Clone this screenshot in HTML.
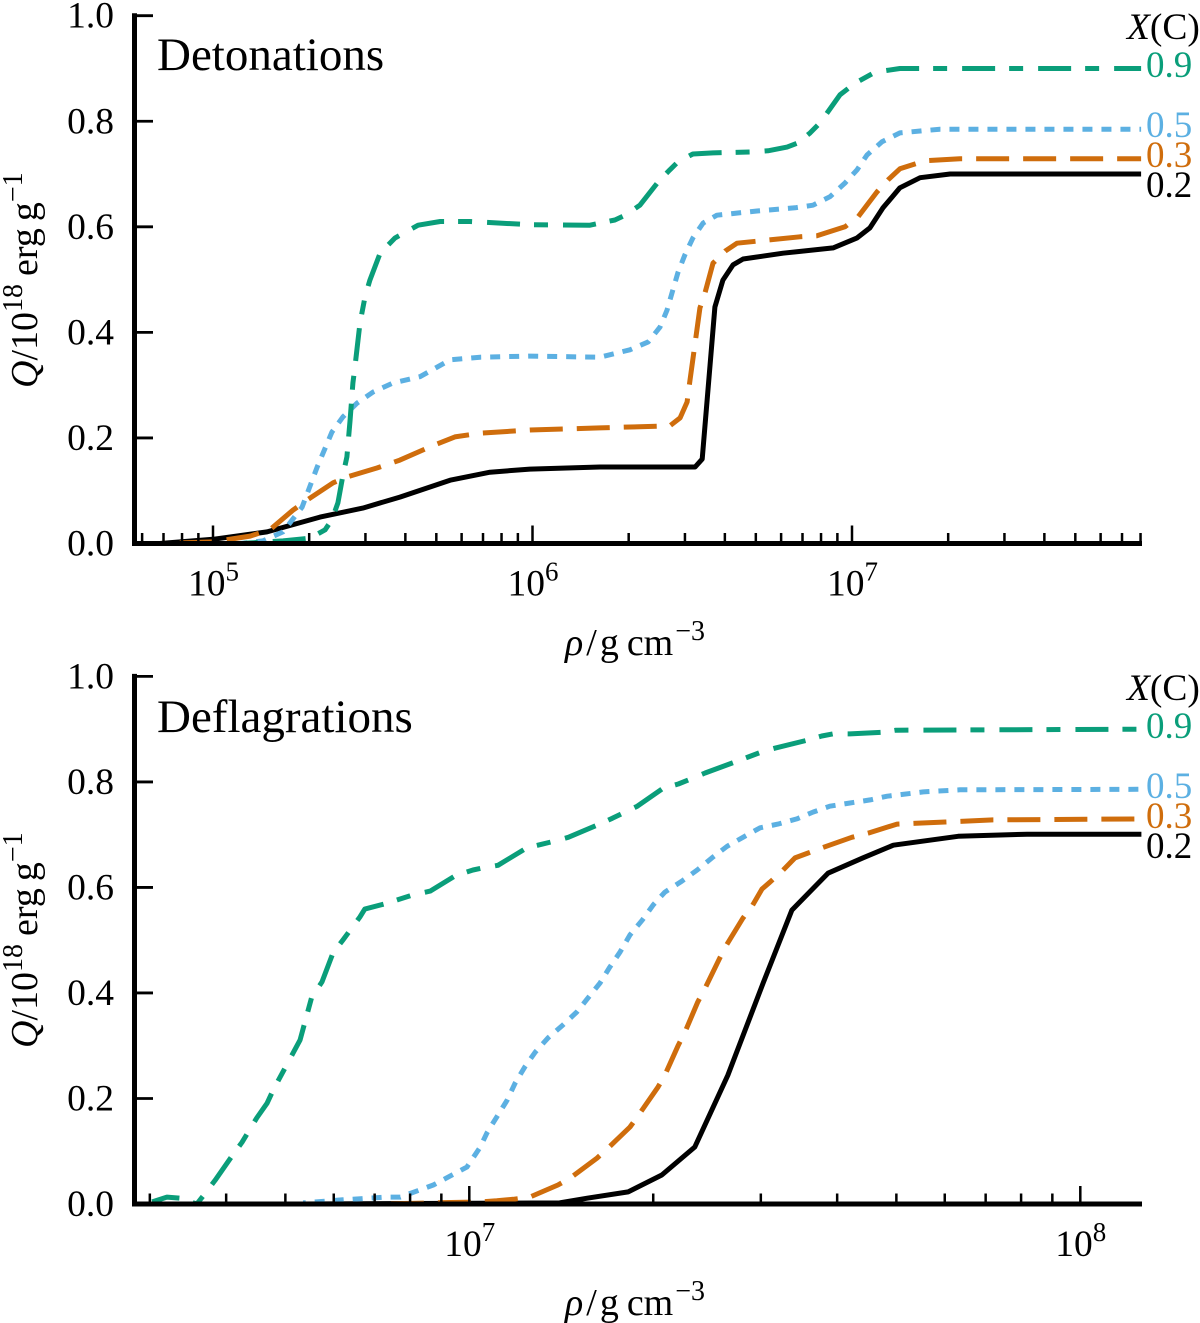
<!DOCTYPE html>
<html lang="en">
<head>
<meta charset="utf-8">
<title>Q vs density: detonations and deflagrations</title>
<style>
html,body{margin:0;padding:0;background:#fff;}
svg{display:block;}
text{font-family:"Liberation Serif",serif;fill:#000;}
.it{font-style:italic;}
</style>
</head>
<body>
<svg id="fig" xmlns="http://www.w3.org/2000/svg" width="1200" height="1323" viewBox="0 0 1200 1323">
  <g id="panel-top">
    <g id="top-series"></g>
    <g id="top-axes"></g>
    <text x="157" y="70" font-size="47">Detonations</text>
    <text x="1127" y="39" font-size="37.5"><tspan class="it">X</tspan>(C)</text>
    <text x="1146" y="77" font-size="37" style="fill:#0a9e7a">0.9</text>
    <text x="1146" y="137" font-size="37" style="fill:#5cb0e2">0.5</text>
    <text x="1146" y="167" font-size="37" style="fill:#cf6d0c">0.3</text>
    <text x="1146" y="197" font-size="37">0.2</text>
    <text x="565" y="655" font-size="38"><tspan class="it">ρ</tspan><tspan dx="3">/</tspan><tspan dx="3">g</tspan><tspan dx="8">cm</tspan><tspan font-size="28" dy="-15" dx="2">−3</tspan></text>
    <text transform="translate(37,388) rotate(-90)" font-size="38"><tspan class="it">Q</tspan>/10<tspan font-size="28" dy="-15">18</tspan><tspan dy="15" dx="8">erg</tspan><tspan dx="7">g</tspan><tspan font-size="28" dy="-15">−1</tspan></text>
  </g>
  <g id="panel-bottom">
    <g id="bot-series"></g>
    <g id="bot-axes"></g>
    <text x="157" y="732" font-size="47">Deflagrations</text>
    <text x="1127" y="700" font-size="37.5"><tspan class="it">X</tspan>(C)</text>
    <text x="1146" y="738" font-size="37" style="fill:#0a9e7a">0.9</text>
    <text x="1146" y="798" font-size="37" style="fill:#5cb0e2">0.5</text>
    <text x="1146" y="828" font-size="37" style="fill:#cf6d0c">0.3</text>
    <text x="1146" y="858" font-size="37">0.2</text>
    <text x="565" y="1315" font-size="38"><tspan class="it">ρ</tspan><tspan dx="3">/</tspan><tspan dx="3">g</tspan><tspan dx="8">cm</tspan><tspan font-size="28" dy="-15" dx="2">−3</tspan></text>
    <text transform="translate(37,1048) rotate(-90)" font-size="38"><tspan class="it">Q</tspan>/10<tspan font-size="28" dy="-15">18</tspan><tspan dy="15" dx="8">erg</tspan><tspan dx="7">g</tspan><tspan font-size="28" dy="-15">−1</tspan></text>
  </g>
</svg>
<script>
// Shared tick values
const yTicks = [0, 0.2, 0.4, 0.6, 0.8, 1.0];
const yTickLabels = ['0.0', '0.2', '0.4', '0.6', '0.8', '1.0'];
const topDecades = [5, 6, 7];
const botDecades = [7, 8];

// Detonations: log10(rho) and Q per carbon fraction
const detLog02 = [4.834,5.000,5.169,5.335,5.469,5.585,5.742,5.867,5.992,6.211,6.509,6.531,6.571,6.596,6.628,6.659,6.784,6.941,7.016,7.056,7.097,7.150,7.213,7.307,7.905];
const detQ02 = [0,.008,.022,.050,.067,.088,.120,.135,.141,.145,.145,.160,.448,.499,.528,.539,.550,.560,.579,.598,.636,.674,.693,.700,.700];
const detLog03 = [4.834,5.000,5.116,5.178,5.250,5.294,5.376,5.419,5.513,5.585,5.679,5.757,5.836,5.992,6.211,6.430,6.462,6.484,6.490,6.524,6.540,6.565,6.603,6.640,6.837,6.890,6.978,7.019,7.078,7.113,7.150,7.228,7.338,7.905];
const detQ03 = [0,.003,.014,.026,.063,.082,.115,.126,.143,.158,.183,.202,.209,.215,.219,.223,.238,.268,.297,.446,.475,.531,.554,.569,.581,.583,.600,.619,.666,.689,.710,.725,.729,.729];
const detLog05 = [5.085,5.156,5.219,5.279,5.326,5.372,5.407,5.451,5.501,5.563,5.648,5.742,5.836,5.992,6.211,6.305,6.362,6.399,6.421,6.455,6.477,6.502,6.534,6.577,6.703,6.822,6.878,6.931,6.978,7.016,7.047,7.094,7.150,7.275,7.905];
const detQ05 = [0,.005,.022,.069,.145,.211,.240,.266,.287,.304,.316,.348,.353,.355,.353,.367,.382,.410,.442,.513,.547,.579,.607,.622,.630,.636,.641,.657,.683,.708,.736,.761,.778,.785,.785];
const detLog09 = [5.085,5.219,5.304,5.351,5.372,5.391,5.407,5.419,5.429,5.438,5.444,5.460,5.476,5.491,5.523,5.570,5.642,5.711,5.804,5.992,6.180,6.258,6.290,6.336,6.393,6.430,6.455,6.502,6.565,6.687,6.737,6.797,6.831,6.869,6.900,6.962,7.009,7.072,7.150,7.905];
const detQ09 = [0,.005,.010,.026,.045,.077,.130,.164,.234,.304,.334,.418,.468,.499,.550,.579,.603,.610,.610,.604,.603,.613,.622,.641,.685,.708,.723,.738,.740,.742,.744,.751,.759,.778,.797,.850,.872,.893,.900,.900];

// Deflagrations: log10(rho) and Q per carbon fraction
const defLog02 = [6.723,7.148,7.193,7.260,7.315,7.369,7.423,7.481,7.528,7.587,7.644,7.694,7.800,7.913,8.100];
const defQ02 = [0,.002,.011,.023,.055,.108,.244,.419,.557,.627,.656,.680,.697,.701,.701];
const defLog03 = [6.854,7.018,7.045,7.072,7.099,7.145,7.165,7.209,7.227,7.263,7.279,7.309,7.320,7.342,7.353,7.374,7.386,7.409,7.420,7.448,7.463,7.479,7.492,7.512,7.533,7.554,7.577,7.626,7.653,7.700,7.779,7.857,8.100];
const defQ03 = [0,.004,.006,.009,.013,.036,.049,.087,.106,.146,.172,.222,.244,.301,.326,.383,.409,.464,.489,.542,.565,.597,.610,.631,.656,.665,.675,.695,.703,.720,.724,.728,.730];
const defLog05 = [6.728,6.793,6.865,6.887,6.941,6.996,7.018,7.029,7.045,7.062,7.075,7.091,7.108,7.129,7.153,7.176,7.194,7.214,7.230,7.247,7.263,7.283,7.301,7.320,7.348,7.373,7.397,7.422,7.448,7.476,7.505,7.536,7.563,7.590,7.623,7.656,7.684,7.743,7.803,8.100];
const defQ05 = [.002,.008,.013,.013,.036,.070,.108,.135,.165,.197,.229,.260,.288,.315,.339,.364,.390,.419,.449,.478,.510,.538,.567,.591,.612,.633,.656,.678,.695,.713,.720,.730,.743,.754,.760,.766,.773,.781,.785,.786];
const defLog09 = [6.481,6.505,6.526,6.554,6.567,6.584,6.613,6.628,6.652,6.669,6.679,6.723,6.742,6.759,6.777,6.793,6.821,6.829,6.865,6.908,6.936,6.977,7.006,7.022,7.047,7.094,7.119,7.137,7.162,7.209,7.234,7.252,7.275,7.317,7.342,7.361,7.386,7.435,7.456,7.479,7.500,7.553,7.577,7.595,7.623,7.676,7.698,8.100];
const defQ09 = [.004,.013,.011,0,.019,.045,.093,.117,.163,.191,.216,.311,.392,.421,.476,.500,.544,.559,.570,.586,.593,.622,.633,.637,.642,.675,.682,.687,.695,.718,.731,.741,.754,.788,.796,.805,.817,.838,.847,.857,.864,.879,.887,.891,.891,.894,.898,.900];

const NS = 'http://www.w3.org/2000/svg';
const LEFT = 134.5, RIGHT = 1142;

function make(tag, parent, attrs) {
  const el = document.createElementNS(NS, tag);
  for (const k in attrs) el.setAttribute(k, attrs[k]);
  parent.appendChild(el);
  return el;
}

function drawSeries(parent, xs, ys, sx, sy, color, dash, period, endPhase, name) {
  let d = '';
  xs.forEach(function (v, i) {
    d += (i ? 'L' : 'M') + sx(v).toFixed(1) + ' ' + sy(ys[i]).toFixed(1);
  });
  const p = make('path', parent, {d: d, fill: 'none', stroke: color, 'stroke-width': 5, 'stroke-dasharray': dash, 'stroke-linejoin': 'round'});
  if (period) {
    // align the dash pattern with the right-hand end of the line
    const off = ((endPhase - p.getTotalLength()) % period + period) % period;
    p.setAttribute('stroke-dashoffset', off.toFixed(1));
  }
  
  
}

function drawAxes(parent, sx, sy, decades, prefix) {
  const y0 = sy(0), y1 = sy(1);
  const yAxis = make('line', parent, {x1: LEFT, x2: LEFT, y1: y1 - 2.5, y2: y0 + 2.5, stroke: '#000', 'stroke-width': 5});
  
  
  const xAxis = make('line', parent, {x1: LEFT - 2.5, x2: RIGHT, y1: y0, y2: y0, stroke: '#000', 'stroke-width': 5});
  
  

  yTicks.forEach(function (v, i) {
    const t = make('line', parent, {x1: LEFT, x2: 153, y1: sy(v), y2: sy(v), stroke: '#000', 'stroke-width': 2.8});
    
    
    const lab = make('text', parent, {x: 114, y: sy(v) + 12, 'font-size': 37.5, 'text-anchor': 'end'});
    lab.textContent = yTickLabels[i];
    
    
  });

  const first = decades[0] - 2, last = decades[decades.length - 1] + 1;
  for (let d = first; d <= last; d++) {
    for (let k = 2; k <= 9; k++) {
      const x = sx(d + Math.log10(k));
      if (x < LEFT + 2 || x > RIGHT) continue;
      const m = make('line', parent, {x1: x, x2: x, y1: y0, y2: y0 - 10.5, stroke: '#000', 'stroke-width': 2.5});
      
      
    }
  }
  decades.forEach(function (dec) {
    const x = sx(dec);
    const t = make('line', parent, {x1: x, x2: x, y1: y0, y2: y0 - 18, stroke: '#000', 'stroke-width': 2.5});
    
    
    const lab = make('text', parent, {x: x - 25, y: y0 + 52, 'font-size': 37.5});
    
    
    lab.appendChild(document.createTextNode('10'));
    const sup = make('tspan', lab, {'font-size': 27, dy: -15});
    sup.textContent = String(dec);
  });
}

// Scale functions for each panel
const sxTop = function (l) { return 213 + (l - 5) * 319.5; };
const syTop = function (q) { return 543.5 - q * 527.8; };
const sxBot = function (l) { return 469.3 + (l - 7) * 611; };
const syBot = function (q) { return 1204 - q * 527.6; };

const topG = document.getElementById('top-series');
drawSeries(topG, detLog02, detQ02, sxTop, syTop, '#000', 'none', 0, 0, 'detonation-line-0.2');
drawSeries(topG, detLog05, detQ05, sxTop, syTop, '#5cb0e2', '10 9', 19, 1.7, 'detonation-line-0.5');
drawSeries(topG, detLog03, detQ03, sxTop, syTop, '#cf6d0c', '33 14', 47, 24, 'detonation-line-0.3');
drawSeries(topG, detLog09, detQ09, sxTop, syTop, '#0a9e7a', '33 14 14 15', 76, 27, 'detonation-line-0.9');
drawAxes(document.getElementById('top-axes'), sxTop, syTop, topDecades, 'top');

const botG = document.getElementById('bot-series');
drawSeries(botG, defLog02, defQ02, sxBot, syBot, '#000', 'none', 0, 0, 'deflagration-line-0.2');
drawSeries(botG, defLog05, defQ05, sxBot, syBot, '#5cb0e2', '10 9', 19, 13, 'deflagration-line-0.5');
drawSeries(botG, defLog03, defQ03, sxBot, syBot, '#cf6d0c', '33 14', 47, 40, 'deflagration-line-0.3');
drawSeries(botG, defLog09, defQ09, sxBot, syBot, '#0a9e7a', '33 14 14 15', 76, 66, 'deflagration-line-0.9');
drawAxes(document.getElementById('bot-axes'), sxBot, syBot, botDecades, 'bottom');
</script>
</body>
</html>
